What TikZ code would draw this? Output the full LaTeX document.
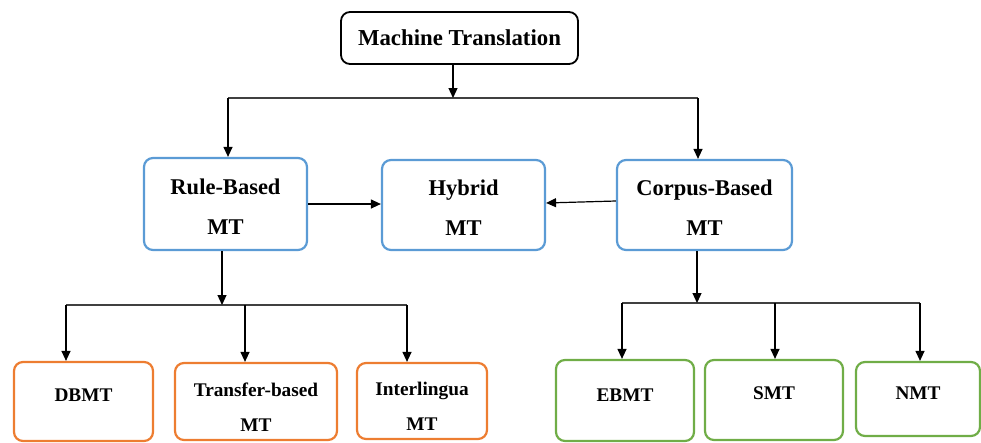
\documentclass[tikz,border=0pt]{standalone}
\usepackage{fontspec}
\setmainfont{Liberation Serif}
\usetikzlibrary{arrows.meta}
\definecolor{boxblue}{RGB}{91,155,213}
\definecolor{boxorange}{RGB}{237,125,49}
\definecolor{boxgreen}{RGB}{112,173,71}
\begin{document}
\begin{tikzpicture}[x=1pt,y=-1pt,
    box/.style={draw, rounded corners=9pt, align=center, inner sep=0pt, font=\bfseries},
    topbox/.style={box, black, line width=1.8pt, font=\fontsize{22.8}{26}\selectfont\bfseries},
    midbox/.style={box, boxblue, line width=2.2pt, text=black, text height=61pt, font=\fontsize{22.5}{40}\selectfont\bfseries},
    rbbox/.style={box, boxorange, line width=2.2pt, text=black, font=\fontsize{19.3}{35}\selectfont\bfseries},
    cbbox/.style={box, boxgreen, line width=2.2pt, text=black, font=\fontsize{19.3}{35}\selectfont\bfseries},
    arr/.style={-{Triangle[length=10pt,width=9pt]}, line width=1.2pt},
    link/.style={line width=1.2pt, draw=black!75}]
        \clip (0,0) rectangle (981,442);
        % top
        \node[topbox, minimum width=237pt, minimum height=52pt] (mt) at (459.5,38) {Machine Translation};
        % second level
        \node[midbox, minimum width=163pt, minimum height=92pt] (rbmt) at (225.5,204) {Rule-Based\\MT};
        \node[midbox, minimum width=163pt, minimum height=90pt] (hyb) at (463.5,205) {Hybrid\\MT};
        \node[midbox, minimum width=175pt, minimum height=90pt] (cbmt) at (704.5,205) {Corpus-Based\\MT};
        % rule-based family
        \node[rbbox, minimum width=139pt, minimum height=79pt, text depth=13pt] (dbmt) at (83.5,401.5) {DBMT};
        \node[rbbox, minimum width=162pt, minimum height=77pt, text height=59pt] (tbmt) at (256,401.5) {Transfer-based\\MT};
        \node[rbbox, minimum width=130pt, minimum height=76pt, text height=59pt] (ilmt) at (422,401) {Interlingua\\MT};
        % corpus-based family
        \node[cbbox, minimum width=138pt, minimum height=81pt, text depth=11pt] (ebmt) at (625,400.5) {EBMT};
        \node[cbbox, minimum width=138pt, minimum height=80pt, text depth=14pt] (smt) at (774,400) {SMT};
        \node[cbbox, minimum width=124pt, minimum height=74pt, text depth=12pt] (nmt) at (918,399) {NMT};

        % junctions
        \coordinate (j1) at (453,98);
        \coordinate (j1l) at (228,98);
        \coordinate (j1r) at (698,98);
        \coordinate (j2) at (222,305);
        \coordinate (j2l) at (66,305);
        \coordinate (j2m) at (245,305);
        \coordinate (j2r) at (407,305);
        \coordinate (j3) at (697,303);
        \coordinate (j3l) at (622,303);
        \coordinate (j3m) at (775,303);
        \coordinate (j3r) at (920,303);

        \draw[link] (j1l) -- (j1r);
        \draw[arr] (mt.south -| j1) -- (j1);
        \draw[arr] (j1l) -- (j1l |- rbmt.north);
        \draw[arr] (j1r) -- (j1r |- cbmt.north);

        \draw[arr] (rbmt.east) -- (rbmt.east -| hyb.west);
        \draw[arr] ([yshift=4pt]cbmt.west) -- ([yshift=2pt]hyb.east);

        \draw[link] (j2l) -- (j2r);
        \draw[arr] (rbmt.south -| j2) -- (j2);
        \draw[arr] (j2l) -- (j2l |- dbmt.north);
        \draw[arr] (j2m) -- (j2m |- tbmt.north);
        \draw[arr] (j2r) -- (j2r |- ilmt.north);

        \draw[link] (j3l) -- (j3r);
        \draw[arr] (cbmt.south -| j3) -- (j3);
        \draw[arr] (j3l) -- (j3l |- ebmt.north);
        \draw[arr] (j3m) -- (j3m |- smt.north);
        \draw[arr] (j3r) -- (j3r |- nmt.north);
\end{tikzpicture}
\end{document}
